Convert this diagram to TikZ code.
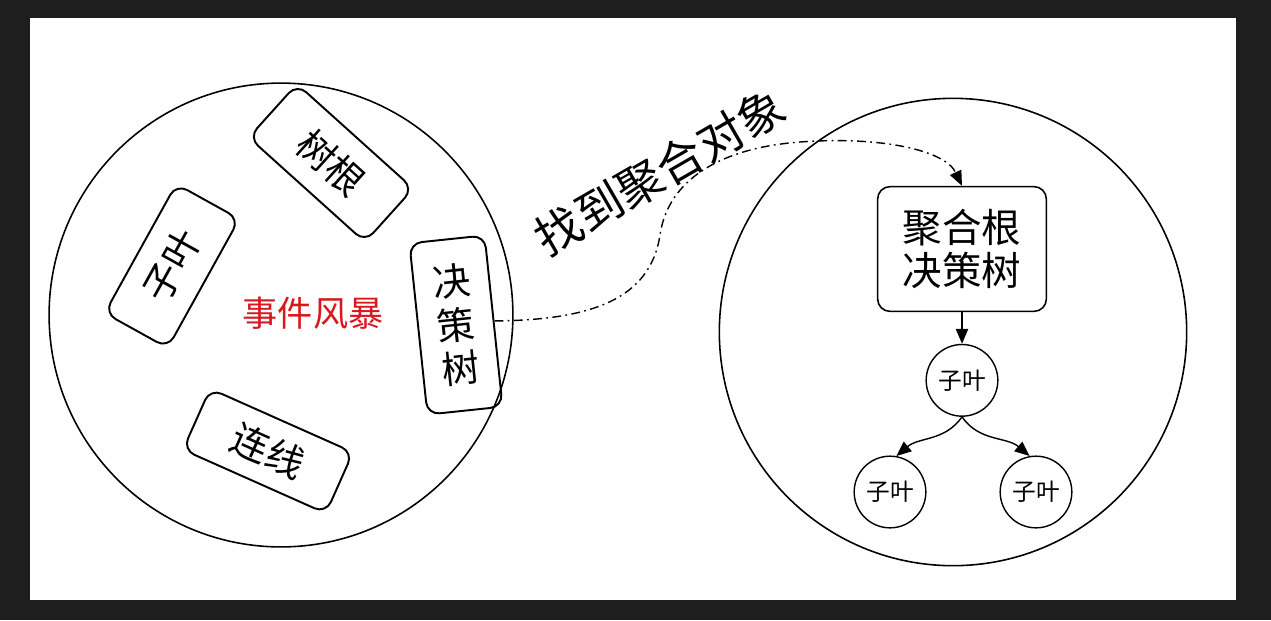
\documentclass[tikz,border=0pt]{standalone}
\usepackage{fontspec}
\setmainfont{Noto Sans CJK SC}
\usetikzlibrary{positioning,arrows.meta}
\definecolor{pagebg}{HTML}{1E1E1E}
\definecolor{stormred}{HTML}{D7191F}

\begin{document}
\begin{tikzpicture}[x=0.02cm, y=-0.02cm,
  ent/.style={draw, rounded corners=7pt, line width=1.1pt, inner sep=0pt, font=\fontsize{21.5}{25}\selectfont},
  leafnode/.style={draw, circle, line width=0.8pt, minimum size=40.8pt, inner sep=0pt, font=\fontsize{13.5}{15}\selectfont},
  tip/.style={-{Triangle[length=8.5pt,width=7pt]}, line width=0.8pt}]
\fill[pagebg] (0,0) rectangle (1271,620);
\fill[white] (30,18) rectangle (1236,600);
% event storm
\node[draw, circle, line width=0.9pt, minimum size=264pt] (stormc) at (281,315) {};
\node[ent, rotate=-42, minimum width=89pt, minimum height=41pt] (root) at (331,163) {树根};
\node[ent, rotate=61, minimum width=84pt, minimum height=41pt] (leaf) at (172,266) {子叶};
\node[ent, rotate=6, minimum width=43pt, minimum height=98pt, align=center] (tree) at (456,325) {决\\策\\树};
\node[ent, rotate=-24, minimum width=89pt, minimum height=38pt] (link) at (268,451) {连线};
\node[text=stormred, font=\fontsize{20}{24}\selectfont] (storm) at (313,313) {事件风暴};
% aggregate
\node[draw, circle, line width=0.9pt, minimum size=266pt] (aggc) at (953,332) {};
\node[draw, rounded corners=7pt, line width=0.9pt, minimum width=96pt, minimum height=71pt, align=center, font=\fontsize{22.5}{24.5}\selectfont] (aggr) at (962,249) {聚合根\\决策树};
\node[leafnode, below=18pt of aggr] (top) {子叶};
\node[leafnode] (lefty) at (890,492) {子叶};
\node[leafnode] (righty) at (1036,492) {子叶};
\draw[tip] (aggr) -- (top);
\draw[tip] (top.south) to[out=-125, in=40] (lefty.80);
\draw[tip] (top.south) to[out=-55, in=140] (righty.100);
% find the aggregate
\node[rotate=30, font=\fontsize{26.5}{30}\selectfont] (find) at (660,172) {找到聚合对象};
\draw[tip, dash pattern=on 5pt off 2.5pt on 1pt off 2.5pt] (tree.east) .. controls (590,320) and (650,300) .. (660,235)
  .. controls (668,180) and (720,148) .. (800,142) .. controls (880,136) and (945,150) .. (aggr.north);
\end{tikzpicture}
\end{document}
